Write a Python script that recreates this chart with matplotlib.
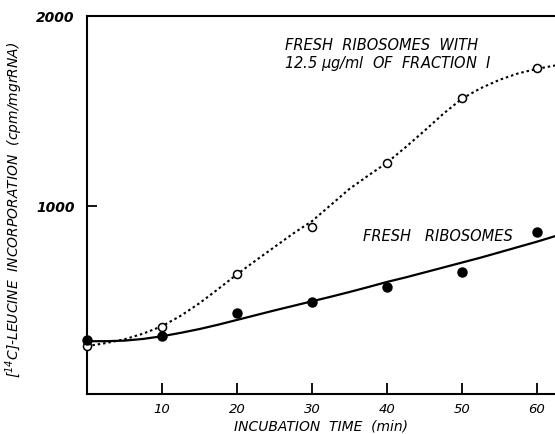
import matplotlib.pyplot as plt

# measured points
time_min = [0, 10, 20, 30, 40, 50, 60]
fraction_i = [262, 365, 642, 891, 1226, 1568, 1724]
fresh = [295, 317, 437, 493, 575, 651, 861]

# hand-drawn curves, every 2.5 min
curve_t = [0, 2.5, 5, 7.5, 10, 12.5, 15, 17.5, 20, 22.5, 25, 27.5, 30,
           32.5, 35, 37.5, 40, 42.5, 45, 47.5, 50, 52.5, 55, 57.5, 60, 62.5]
curve_fraction_i = [262, 278, 298, 328, 367, 422, 488, 563, 640, 713, 784, 855, 920,
                    1005, 1090, 1160, 1228, 1310, 1396, 1485, 1565, 1620, 1664, 1698, 1722, 1740]
curve_fresh = [288, 288, 291, 300, 314, 332, 352, 375, 400, 425, 450, 474, 498,
               522, 547, 573, 600, 624, 650, 676, 702, 728, 756, 784, 812, 842]

x_ticks = [10, 20, 30, 40, 50, 60]
y_ticks = [1000, 2000]

plt.rcParams['font.family'] = ['DejaVu Sans']
plt.rcParams['font.style'] = 'italic'

fig = plt.figure(figsize=(5.55, 4.35), dpi=100)
ax = fig.add_axes([87 / 555, 40 / 435, 468 / 555, 378 / 435])

ax.plot(curve_t, curve_fraction_i, color='black', lw=1.5, linestyle=(0, (1.2, 1.4)))
ax.plot(curve_t, curve_fresh, color='black', lw=1.6)
ax.plot(time_min, fraction_i, 'o', ms=5.8, mfc='white', mec='black', mew=1.1, clip_on=False, zorder=3)
ax.plot(time_min, fresh, 'o', ms=6.5, color='black', clip_on=False, zorder=3)

ax.set_xlim(0, 62.4)
ax.set_ylim(10, 2000)
ax.set_xticks(x_ticks)
ax.set_yticks(y_ticks)
ax.tick_params(direction='in', length=8, width=1.3, labelsize=9.5, pad=6)
ax.tick_params(axis='y', length=7, pad=9)
for lab in ax.get_yticklabels():
    lab.set_fontweight('bold')
    lab.set_fontsize(10)
for side in ['left', 'bottom', 'top']:
    ax.spines[side].set_linewidth(1.5)
ax.spines['right'].set_visible(False)

ax.set_xlabel('INCUBATION  TIME  (min)', fontsize=10, labelpad=2)
ax.set_ylabel(r'[$^{14}$C]-LEUCINE  INCORPORATION  (cpm/mgrRNA)', fontsize=10, va='center')
ax.yaxis.set_label_coords(-0.156, 0.49)

ax.text(285, 46, 'FRESH  RIBOSOMES  WITH', transform=None, fontsize=10.5, va='center')
ax.text(284, 64, r'12.5 $\mu$g/ml  OF  FRACTION  I', transform=None, fontsize=10.5, va='center')
ax.text(363, 237, 'FRESH   RIBOSOMES', transform=None, fontsize=10.5, va='center')

# transform=None uses display pixels from the bottom; flip y
for t in ax.texts:
    x, y = t.get_position()
    t.set_position((x, 435 - y))

fig.savefig('out.png', dpi=100)
